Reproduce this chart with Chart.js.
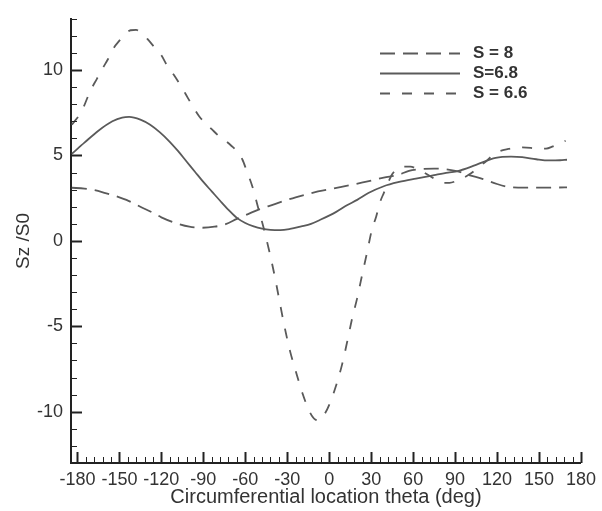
<!DOCTYPE html>
<html>
<head>
<meta charset="utf-8">
<script src="https://cdn.jsdelivr.net/npm/chart.js@4.4.1/dist/chart.umd.min.js"></script>
<style>
  html, body { margin: 0; padding: 0; background: #ffffff; }
  #wrap { width: 602px; height: 511px; }
</style>
</head>
<body>
<div id="wrap"><canvas id="chart" width="602" height="511"></canvas></div>
<script>
// Series names
const seriesLabels = ['S = 8', 'S=6.8', 'S = 6.6'];

// S = 8 : circumferential angle (deg) and Sz/S0
const thetaS8 = [-184, -175, -168, -160, -150, -145, -135, -125, -120, -110, -100, -91, -82, -74, -66, -58, -50, -41, -30, -24, -15, -8, 0, 8, 24, 39, 50, 57, 65, 75, 83, 92, 100, 110, 120, 128, 135, 150, 170];
const valS8   = [3.11, 3.06, 2.98, 2.80, 2.55, 2.40, 2.00, 1.60, 1.38, 1.05, 0.83, 0.77, 0.83, 0.98, 1.29, 1.57, 1.85, 2.10, 2.40, 2.55, 2.75, 2.90, 3.02, 3.15, 3.42, 3.70, 3.88, 4.10, 4.20, 4.23, 4.20, 4.07, 3.85, 3.62, 3.33, 3.16, 3.12, 3.12, 3.13];

// S = 6.8
const thetaS68 = [-184, -175, -165, -155, -148, -143, -135, -128, -121, -114, -108, -102, -96, -90, -84, -78, -72, -66, -60, -54, -48, -42, -35, -28, -20, -13, -6, 5, 13, 20, 28, 39, 50, 62, 75, 85, 92, 105, 119, 130, 138, 148, 157, 165, 170];
const valS68   = [5.10, 5.75, 6.45, 7.00, 7.22, 7.26, 7.10, 6.80, 6.35, 5.80, 5.25, 4.65, 4.05, 3.45, 2.90, 2.35, 1.82, 1.35, 1.05, 0.85, 0.72, 0.65, 0.63, 0.70, 0.85, 1.00, 1.25, 1.70, 2.10, 2.40, 2.80, 3.20, 3.45, 3.65, 3.85, 4.00, 4.09, 4.45, 4.86, 4.93, 4.90, 4.78, 4.71, 4.72, 4.75];

// S = 6.6
const thetaS66 = [-184, -177, -171, -166, -162, -158, -154, -150, -146, -142, -138, -134, -130, -125, -120, -116, -111, -105, -101, -97, -93, -88, -84, -79, -74, -70, -66, -62, -59, -55, -51, -47, -43, -39, -35, -32, -28, -24, -19, -14, -10, -7, -3, 0, 4, 9, 13, 16.5, 20, 23.5, 27, 30.5, 33.5, 36.5, 39, 41.5, 45, 49, 53, 58, 63, 67, 72, 77, 82, 86, 92, 100, 106, 112, 119, 128, 138, 148, 155, 160, 165, 169];
const valS66   = [6.80, 7.59, 8.74, 9.50, 10.10, 10.66, 11.30, 11.72, 12.10, 12.33, 12.35, 12.15, 11.82, 11.34, 10.86, 10.28, 9.71, 8.93, 8.36, 7.80, 7.30, 6.85, 6.54, 6.15, 5.85, 5.57, 5.25, 4.75, 4.10, 3.20, 2.00, 0.80, -0.55, -2.05, -3.75, -5.00, -6.45, -7.60, -8.95, -10.00, -10.45, -10.50, -10.10, -9.60, -8.70, -7.30, -5.85, -4.50, -3.35, -2.00, -0.70, 0.65, 1.40, 2.30, 2.80, 3.30, 3.90, 4.23, 4.35, 4.35, 4.20, 4.03, 3.80, 3.55, 3.40, 3.40, 3.55, 3.88, 4.25, 4.65, 5.15, 5.38, 5.47, 5.42, 5.40, 5.53, 5.70, 5.86];

// Axis tick labels
const xTickValues = [-180, -150, -120, -90, -60, -30, 0, 30, 60, 90, 120, 150, 180];
const yTickValues = [-10, -5, 0, 5, 10];

const toPoints = (xs, ys) => xs.map((x, i) => ({ x: x, y: ys[i] }));

const lineColor = '#5a5a5a';
const axisColor = '#222222';
const textColor = '#333333';
const fontFamily = "'Liberation Sans', Arial, sans-serif";

// Inward major/minor tick marks on both axes
const inwardTicks = {
  id: 'inwardTicks',
  afterDatasetsDraw(chart) {
    const { ctx, chartArea: a, scales: { x, y } } = chart;
    ctx.save();
    ctx.strokeStyle = axisColor;
    for (let v = y.min; v <= y.max; v++) {
      const major = v % 5 === 0;
      const py = Math.round(y.getPixelForValue(v)) + 0.5;
      ctx.lineWidth = major ? 2 : 1;
      ctx.beginPath();
      ctx.moveTo(a.left, py);
      ctx.lineTo(a.left + (major ? 11 : 6), py);
      ctx.stroke();
    }
    for (let v = -180; v <= 180; v += 6) {
      const major = v % 30 === 0;
      const px = Math.round(x.getPixelForValue(v)) + 0.5;
      ctx.lineWidth = major ? 2 : 1;
      ctx.beginPath();
      ctx.moveTo(px, a.bottom);
      ctx.lineTo(px, a.bottom - (major ? 11 : 6));
      ctx.stroke();
    }
    ctx.restore();
  }
};

// Legend drawn inside the plot, top right
const insideLegend = {
  id: 'insideLegend',
  afterDraw(chart) {
    const { ctx } = chart;
    const x0 = 380, x1 = 460, textX = 473, rowY = [53, 73, 93];
    ctx.save();
    chart.data.datasets.forEach((ds, i) => {
      ctx.strokeStyle = ds.borderColor;
      ctx.lineWidth = ds.borderWidth;
      ctx.setLineDash(ds.borderDash || []);
      ctx.beginPath();
      ctx.moveTo(x0, rowY[i] + 0.5);
      ctx.lineTo(x1, rowY[i] + 0.5);
      ctx.stroke();
      ctx.setLineDash([]);
      ctx.fillStyle = textColor;
      ctx.font = 'bold 17px ' + fontFamily;
      ctx.textBaseline = 'middle';
      ctx.textAlign = 'left';
      ctx.fillText(ds.label, textX, rowY[i]);
    });
    ctx.restore();
  }
};

new Chart(document.getElementById('chart'), {
  type: 'line',
  data: {
    datasets: [
      {
        label: seriesLabels[0],
        data: toPoints(thetaS8, valS8),
        borderColor: lineColor,
        borderWidth: 1.8,
        borderDash: [15, 8]
      },
      {
        label: seriesLabels[1],
        data: toPoints(thetaS68, valS68),
        borderColor: lineColor,
        borderWidth: 1.8,
        borderDash: []
      },
      {
        label: seriesLabels[2],
        data: toPoints(thetaS66, valS66),
        borderColor: lineColor,
        borderWidth: 1.8,
        borderDash: [10, 12]
      }
    ]
  },
  options: {
    responsive: false,
    animation: false,
    devicePixelRatio: 1,
    layout: { padding: { top: 12, right: 16, left: 0, bottom: 0 } },
    elements: {
      point: { radius: 0 },
      line: { cubicInterpolationMode: 'monotone', fill: false }
    },
    plugins: {
      legend: { display: false },
      tooltip: { enabled: false }
    },
    scales: {
      x: {
        type: 'linear',
        min: -184.6,
        max: 180,
        afterFit(scale) { scale.height = 48; },
        afterBuildTicks(scale) { scale.ticks = xTickValues.map(v => ({ value: v })); },
        grid: { display: false, drawTicks: false },
        border: { display: true, color: axisColor, width: 2 },
        ticks: {
          color: textColor,
          padding: 6,
          maxRotation: 0,
          autoSkip: false,
          font: { family: fontFamily, size: 18 }
        },
        title: {
          display: true,
          text: 'Circumferential location theta (deg)',
          color: textColor,
          font: { family: fontFamily, size: 20 },
          padding: { top: 0, bottom: 2 }
        }
      },
      y: {
        type: 'linear',
        min: -13,
        max: 13,
        afterFit(scale) { scale.width = 71; },
        afterBuildTicks(scale) { scale.ticks = yTickValues.map(v => ({ value: v })); },
        grid: { display: false, drawTicks: false },
        border: { display: true, color: axisColor, width: 2 },
        ticks: {
          color: textColor,
          padding: 8,
          autoSkip: false,
          font: { family: fontFamily, size: 18 }
        },
        title: {
          display: true,
          text: 'Sz /S0',
          color: textColor,
          font: { family: fontFamily, size: 19 },
          padding: { top: 12, bottom: 0 }
        }
      }
    }
  },
  plugins: [inwardTicks, insideLegend]
});
</script>
</body>
</html>
